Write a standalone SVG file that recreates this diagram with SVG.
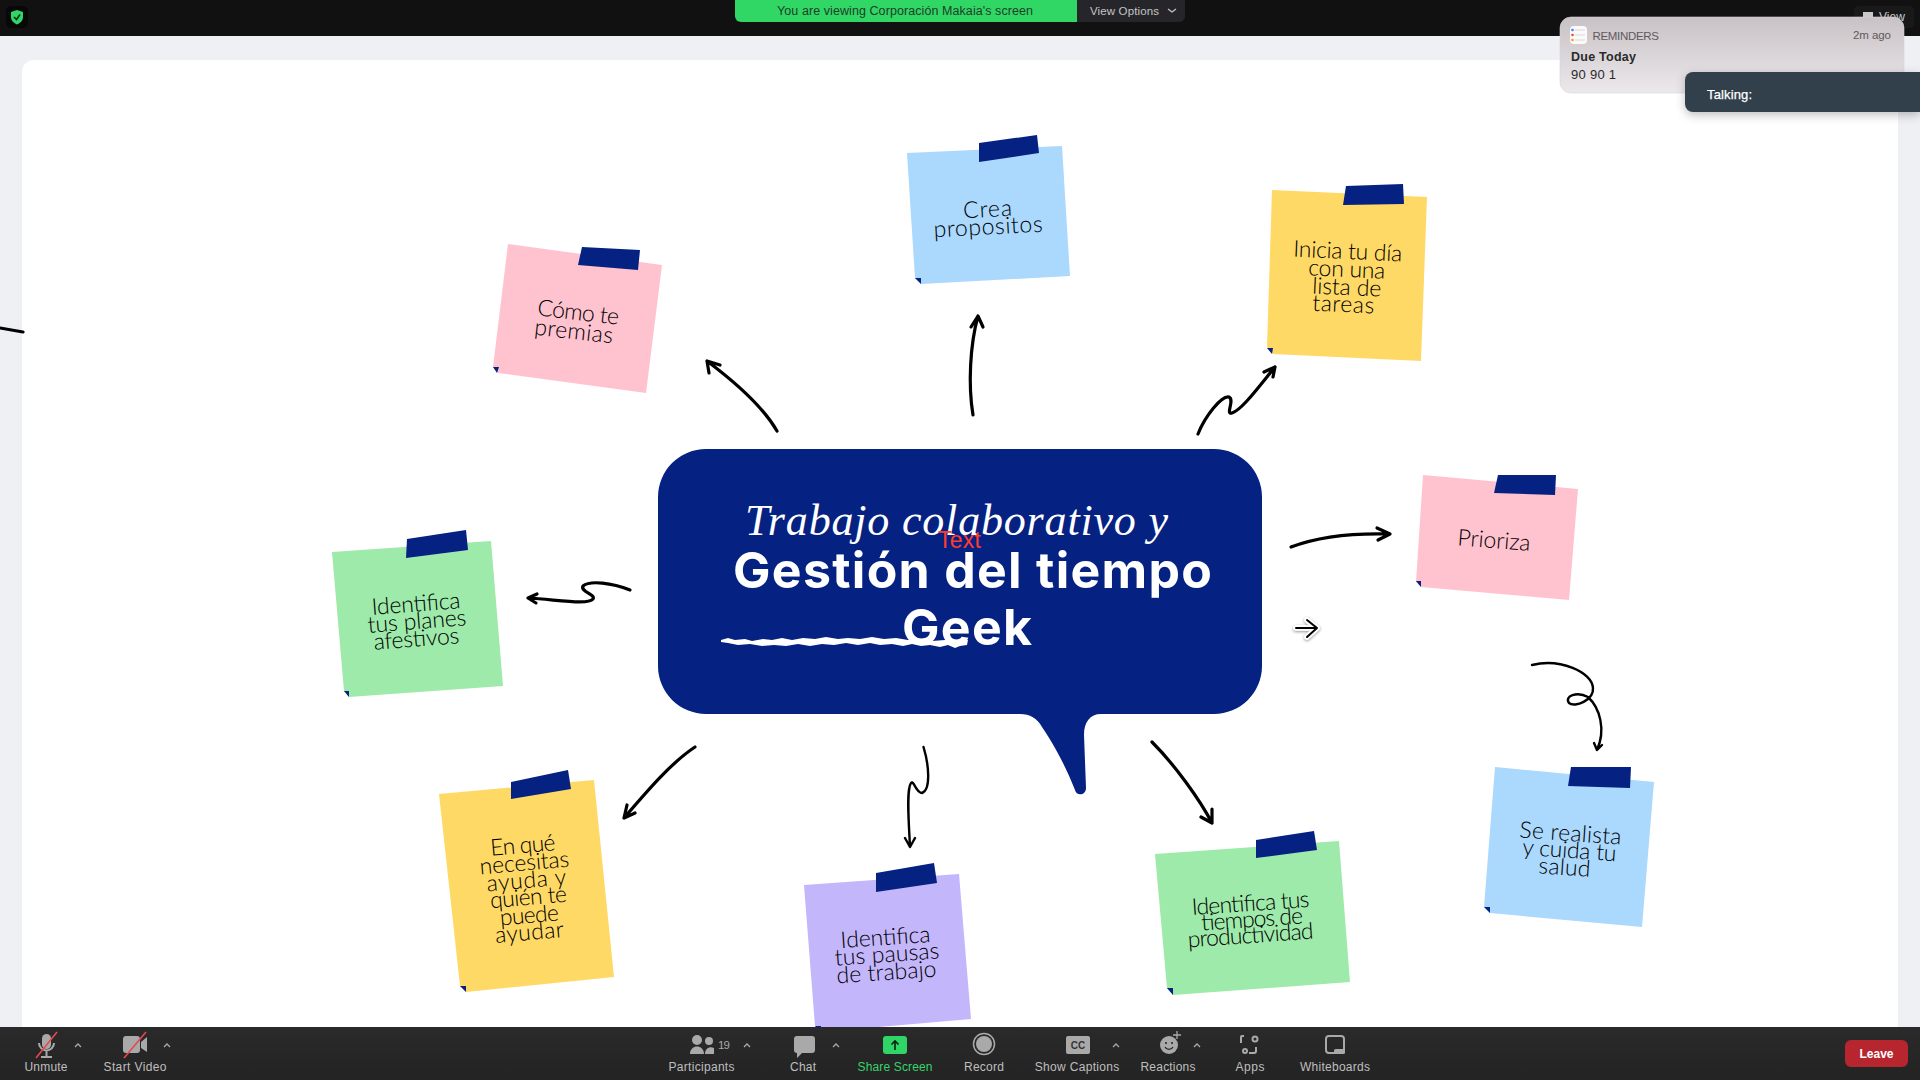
<svg xmlns="http://www.w3.org/2000/svg" width="1920" height="1080" viewBox="0 0 1920 1080">
<style>
text{font-family:"Liberation Sans",Arial,sans-serif}
.note{font-family:Lato,"Noto Sans",sans-serif;font-size:23px;font-weight:300;fill:#000;text-anchor:middle}
.head{font-family:Inter,"Liberation Sans",sans-serif;font-size:50px;font-weight:700;fill:#fff;text-anchor:middle}
.tape,.fold{fill:#052181}
.pink{fill:#ffc2cf}.blue{fill:#abd8fd}.yellow{fill:#ffd966}.green{fill:#9eeaaa}.purple{fill:#c3b6fa}
.arrow{fill:none;stroke:#000;stroke-width:3.2;stroke-linecap:round;stroke-linejoin:round}
.thin{stroke-width:2.4}
.tb{font-size:12px;fill:#bfbfbf;text-anchor:middle}
.ic{fill:#a9a9a9}
.icl{fill:none;stroke:#a9a9a9;stroke-width:2}
.car{fill:none;stroke:#a9a9a9;stroke-width:1.3}
.slash{stroke:#e5484d;stroke-width:1.6}
</style>
<defs>
<linearGradient id="rem" x1="0" y1="0" x2="0" y2="1"><stop offset="0" stop-color="#c8c1c5"/><stop offset="1" stop-color="#ece8eb"/></linearGradient>
<linearGradient id="bar" x1="0" y1="0" x2="0" y2="1"><stop offset="0" stop-color="#2a2a2a"/><stop offset="1" stop-color="#232323"/></linearGradient>
<filter id="sh" x="-20%" y="-40%" width="140%" height="200%"><feDropShadow dx="0" dy="3" stdDeviation="5" flood-color="#000" flood-opacity=".25"/></filter>
<filter id="csh" x="-40%" y="-40%" width="180%" height="180%"><feDropShadow dx="0" dy="1" stdDeviation="1.500" flood-color="#000" flood-opacity=".45"/></filter>
</defs>

<g id="screen">
<rect width="1920" height="1080" fill="#eff0f4"/>
<path d="M34,60H1898V1030H22V72A12,12 0 0 1 34,60Z" fill="#fff"/>
<path d="M0,328L23,332" class="arrow"/>
</g>

<g id="connectors">
<path class="arrow" d="M777,431C762,405 735,382 707,361M709,373L707,361L720,365"/>
<path class="arrow" d="M973,415C968,385 970,345 978,316M971,327L978,316L983,327"/>
<path class="arrow" d="M1198,434C1205,416 1222,395 1229,397C1235,400 1225,415 1232,413C1242,410 1260,385 1275,367M1264,372L1275,367L1273,377"/>
<path class="arrow" d="M1291,547C1320,536 1355,533 1390,534M1377,528L1390,534L1378,540"/>
<path class="arrow thin" d="M1532,665C1560,658 1592,672 1593,688C1594,700 1575,708 1569,703C1564,696 1577,691 1588,697C1600,708 1606,730 1597,750M1594,743L1597,750L1602,745"/>
<path class="arrow" d="M1152,742C1175,765 1200,800 1212,823M1201,817L1212,823L1212,809"/>
<path class="arrow thin" d="M923.500,747C929,765 931,790 922,793C916,793 914,780 911,783C906,790 909,825 910,847M905,838L910,847L915,838"/>
<path class="arrow" d="M695,747C672,762 648,790 624,818M627,805L624,818L635,813"/>
<path class="arrow" d="M630,590C612,583 590,580 583,586C580,592 596,594 593,599C588,605 560,600 528,598M537,594L528,598L536,603"/>
</g>

<g id="center">
<path d="M706,449H1214A48,48 0 0 1 1262,497V666A48,48 0 0 1 1214,714H1101C1090,714 1084,722 1084,735L1086,788C1086,796 1076,796 1075,790C1064,762 1052,742 1042,727C1037,718 1030,714 1020,714H706A48,48 0 0 1 658,666V497A48,48 0 0 1 706,449Z" fill="#052181"/>
<path d="M721,640L728,638L735,640L745,639L752,641L763,639L772,640L782,638L792,640L803,638L815,639L826,637L838,639L848,638L860,639L872,637L884,639L896,638L908,640L920,639L932,641L945,640L957,641L968,640L967,645L960,646L955,648L948,645L940,647L930,645L921,646L912,644L903,646L892,644L880,645L870,643L858,645L846,643L834,645L822,644L810,646L798,644L786,646L774,645L762,646L750,644L738,645L728,643L721,642Z" fill="#fff"/>
<text x="745" y="535" font-style="italic" font-size="44" fill="#fff" textLength="423" style="font-family:'Liberation Serif',serif">Trabajo colaborativo y</text>
<text class="head" x="972.500" y="588" textLength="479">Gestión del tiempo</text>
<text class="head" x="967" y="645" textLength="130">Geek</text>
<text x="938" y="548" font-size="23" fill="#ff3b30" textLength="43">Text</text>
</g>

<g id="note-premias">
<polygon class="pink" points="508,244 662,265 646,393 498,373 493,367"/>
<polygon class="tape" points="582,247 640,250 638,270 578,265"/>
<polygon class="fold" points="493,367 499,367 497,373"/>
<text class="note" transform="translate(577.500,320) rotate(6.500)" textLength="82">Cómo te</text>
<text class="note" transform="translate(573,339) rotate(6.500)" textLength="79">premias</text>
</g>
<g id="note-propositos">
<polygon class="blue" points="907,153 1062,146 1070,276 921,284 915,278"/>
<polygon class="tape" points="979,143 1037,135 1039,153 979,162"/>
<polygon class="fold" points="915,278 921,278 921,284"/>
<text class="note" transform="translate(988,217) rotate(-3)" textLength="49">Crea</text>
<text class="note" transform="translate(988.500,234.500) rotate(-3)" textLength="109">propositos</text>
</g>
<g id="note-tareas">
<polygon class="yellow" points="1272,190 1427,197 1421,361 1273,354 1267,347"/>
<polygon class="tape" points="1346,186 1403,184 1404,204 1343,205"/>
<polygon class="fold" points="1267,348 1273,348 1272,354"/>
<text class="note" transform="translate(1347.500,259) rotate(2.500)" textLength="109">Inicia tu día</text>
<text class="note" transform="translate(1346.500,277) rotate(2.500)" textLength="77">con una</text>
<text class="note" transform="translate(1346.500,295) rotate(2.500)" textLength="69">lista de</text>
<text class="note" transform="translate(1343,312) rotate(2.500)" textLength="62">tareas</text>
</g>
<g id="note-prioriza">
<polygon class="pink" points="1423,475 1578,489 1569,600 1421,587 1416,582"/>
<polygon class="tape" points="1498,475 1556,475 1555,495 1494,493"/>
<polygon class="fold" points="1416,581 1421,581 1421,587"/>
<text class="note" transform="translate(1493.500,548) rotate(4.500)" textLength="73">Prioriza</text>
</g>
<g id="note-salud">
<polygon class="blue" points="1495,767 1654,782 1642,927 1490,913 1484,907"/>
<polygon class="tape" points="1571,767 1631,767 1630,788 1568,786"/>
<polygon class="fold" points="1484,907 1490,907 1490,913"/>
<text class="note" transform="translate(1570,841) rotate(4)" textLength="102">Se realista</text>
<text class="note" transform="translate(1569,858) rotate(4)" textLength="94">y cuida tu</text>
<text class="note" transform="translate(1564,875) rotate(4)" textLength="52">salud</text>
</g>
<g id="note-productividad">
<polygon class="green" points="1155,854 1339,841 1350,982 1173,995 1167,988"/>
<polygon class="tape" points="1256,840 1314,831 1317,850 1256,858"/>
<polygon class="fold" points="1167,988 1173,988 1173,995"/>
<text class="note" transform="translate(1251,911) rotate(-4)" textLength="118">Identifica tus</text>
<text class="note" transform="translate(1252,927) rotate(-4)" textLength="102">tiempos de</text>
<text class="note" transform="translate(1251,943) rotate(-4)" textLength="126">productividad</text>
</g>
<g id="note-pausas">
<polygon class="purple" points="804,885 959,874 971,1019 821,1032 815,1026"/>
<polygon class="tape" points="876,873 934,863 937,883 876,892"/>
<polygon class="fold" points="815,1026 821,1026 821,1032"/>
<text class="note" transform="translate(886,945) rotate(-4)" textLength="90">Identifica</text>
<text class="note" transform="translate(887.500,962) rotate(-4)" textLength="105">tus pausas</text>
<text class="note" transform="translate(887,980) rotate(-4)" textLength="100">de trabajo</text>
</g>
<g id="note-ayuda">
<polygon class="yellow" points="439,794 594,780 614,977 466,992 460,986"/>
<polygon class="tape" points="511,782 568,770 571,789 511,799"/>
<polygon class="fold" points="460,986 466,986 466,992"/>
<text class="note" transform="translate(523.500,853) rotate(-5)" textLength="65">En qué</text>
<text class="note" transform="translate(525,870.500) rotate(-5)" textLength="90">necesitas</text>
<text class="note" transform="translate(527,888) rotate(-5)" textLength="80">ayuda y</text>
<text class="note" transform="translate(529,905) rotate(-5)" textLength="77">quién te</text>
<text class="note" transform="translate(530,923) rotate(-5)" textLength="59">puede</text>
<text class="note" transform="translate(530,940) rotate(-5)" textLength="69">ayudar</text>
</g>
<g id="note-afestivos">
<polygon class="green" points="332,552 491,541 503,686 349,697 344,691"/>
<polygon class="tape" points="407,539 466,530 468,550 406,558"/>
<polygon class="fold" points="344,691 349,691 349,697"/>
<text class="note" transform="translate(416.500,611.500) rotate(-4.500)" textLength="89">Identifica</text>
<text class="note" transform="translate(417.500,629) rotate(-4.500)" textLength="99">tus planes</text>
<text class="note" transform="translate(417,646.500) rotate(-4.500)" textLength="86">afestivos</text>
</g>

<g id="cursor" fill="none" stroke-linecap="round" stroke-linejoin="round">
<path d="M1296,628H1317M1307,620L1317,628L1307,637" stroke="#fff" stroke-width="5.500" filter="url(#csh)"/>
<path d="M1296,628H1317M1307,620L1317,628L1307,637" stroke="#000" stroke-width="2"/>
</g>

<g id="top-bar">
<rect width="1920" height="36" fill="#111"/>
<rect x="6" y="6" width="22" height="22" rx="5" fill="#080808"/>
<path d="M17,10L23,12V17C23,21 20,23 17,24.500C14,23 11,21 11,17V12Z" fill="#2fd566"/>
<path d="M14,17L16.500,19.500L20,14.500" fill="none" stroke="#0a2a14" stroke-width="1.500"/>
<path d="M735,0H1185V16A6,6 0 0 1 1179,22H741A6,6 0 0 1 735,16Z" fill="#26262a"/>
<path d="M735,0H1077V22H741A6,6 0 0 1 735,16Z" fill="#30d764"/>
<text x="777" y="15" font-size="12.500" fill="#1f3d2a" textLength="256">You are viewing Corporación Makaia's screen</text>
<text x="1090" y="15" font-size="11.500" fill="#c4c4c8" textLength="69">View Options</text>
<path d="M1168,9L1172,12L1176,9" fill="none" stroke="#c4c4c8" stroke-width="1.300"/>
<rect x="1854" y="6" width="60" height="22" rx="4" fill="#191919"/>
<path d="M1863,12h10v5h-10z" fill="#c8c8c8"/>
<text x="1879" y="21" font-size="12" fill="#c8c8c8" textLength="26">View</text>
</g>

<g id="reminder">
<rect x="1560" y="17" width="344" height="76" rx="11" fill="url(#rem)" stroke="#d8d4d6" stroke-width=".6"/>
<rect x="1570" y="26" width="17" height="18" rx="4" fill="#fafafa"/>
<circle cx="1572.500" cy="30" r="1.300" fill="#3b82f6"/>
<circle cx="1572.500" cy="35" r="1.300" fill="#ef4444"/>
<circle cx="1572.500" cy="40" r="1.300" fill="#f59e0b"/>
<path d="M1575,30h10M1575,35h10M1575,40h10" stroke="#cfcfcf" stroke-width=".8"/>
<text x="1592.500" y="40" font-size="11.500" fill="#5f595c" textLength="66.500">REMINDERS</text>
<text x="1853" y="39" font-size="11.500" fill="#5f595c" textLength="38">2m ago</text>
<text x="1571" y="61" font-size="12.500" font-weight="700" fill="#2a2a2a" textLength="65">Due Today</text>
<text x="1571" y="79" font-size="13" fill="#2a2a2a" textLength="45">90 90 1</text>
</g>
<g id="talking">
<path d="M1920,72H1693A8,8 0 0 0 1685,80V104A8,8 0 0 0 1693,112H1920Z" fill="#33414b" filter="url(#sh)"/>
<text x="1707" y="99" font-size="13" fill="#fff" stroke="#fff" stroke-width=".25" textLength="45">Talking:</text>
</g>

<g id="toolbar">
<rect y="1027" width="1920" height="53" fill="url(#bar)"/>
<g id="btn-unmute">
<rect x="42" y="1034" width="9" height="15" rx="4.500" class="ic"/>
<path d="M39,1043a7.500,7.500 0 0 0 15,0M46.500,1051v5M41,1057h11" class="icl"/>
<path d="M36,1058L57,1032" class="slash"/>
<path d="M75,1047L78,1044L81,1047" class="car"/>
<text class="tb" x="46" y="1071" textLength="43">Unmute</text>
</g>
<g id="btn-video">
<rect x="123" y="1036" width="17" height="17" rx="3" class="ic"/>
<path d="M141,1042L147,1037V1052L141,1048Z" class="ic"/>
<path d="M124,1058L146,1032" class="slash"/>
<path d="M164,1047L167,1044L170,1047" class="car"/>
<text class="tb" x="135" y="1071" textLength="63">Start Video</text>
</g>
<g id="btn-participants">
<circle cx="697" cy="1040" r="5" class="ic"/>
<circle cx="709" cy="1041" r="4" class="ic"/>
<path d="M690,1054C690,1044 704,1044 704,1054ZM705,1054C705,1048 710,1046 714,1048V1054Z" class="ic"/>
<text x="718" y="1049" font-size="11.500" fill="#a9a9a9" textLength="12">19</text>
<path d="M744,1047L747,1044L750,1047" class="car"/>
<text class="tb" x="701.500" y="1071" textLength="66">Participants</text>
</g>
<g id="btn-chat">
<path d="M797,1036H812A3,3 0 0 1 815,1039V1050A3,3 0 0 1 812,1053H802L797,1058V1053A3,3 0 0 1 794,1050V1039A3,3 0 0 1 797,1036Z" class="ic"/>
<path d="M833,1047L836,1044L839,1047" class="car"/>
<text class="tb" x="803" y="1071" textLength="26">Chat</text>
</g>
<g id="btn-share">
<rect x="883" y="1036" width="24" height="18" rx="3" fill="#2fd566"/>
<path d="M895,1050V1041M891.500,1044.500L895,1041L898.500,1044.500" fill="none" stroke="#0b1f12" stroke-width="1.600"/>
<text class="tb" x="895" y="1071" textLength="75" style="fill:#35d46a">Share Screen</text>
</g>
<g id="btn-record">
<circle cx="984" cy="1044" r="10.500" fill="none" stroke="#a9a9a9" stroke-width="1.500"/>
<circle cx="984" cy="1044" r="8" class="ic"/>
<text class="tb" x="984" y="1071" textLength="40">Record</text>
</g>
<g id="btn-captions">
<rect x="1066" y="1036" width="24" height="18" rx="2" class="ic"/>
<text x="1078" y="1049" font-size="10" font-weight="700" fill="#333" text-anchor="middle">CC</text>
<path d="M1113,1047L1116,1044L1119,1047" class="car"/>
<text class="tb" x="1077" y="1071" textLength="84.500">Show Captions</text>
</g>
<g id="btn-reactions">
<circle cx="1169" cy="1045" r="9" class="ic"/>
<circle cx="1166" cy="1043" r="1" fill="#222"/><circle cx="1172" cy="1043" r="1" fill="#222"/>
<path d="M1165,1047a4.500,4.500 0 0 0 8,0" fill="none" stroke="#222" stroke-width="1.200"/>
<path d="M1177,1031v8M1173,1035h8" stroke="#a9a9a9" stroke-width="1.300"/>
<path d="M1194,1047L1197,1044L1200,1047" class="car"/>
<text class="tb" x="1168" y="1071" textLength="55">Reactions</text>
</g>
<g id="btn-apps">
<path d="M1244,1036h-2a1,1 0 0 0 -1,1v6M1249,1053h5a2,2 0 0 0 2,-2v-4" class="icl" stroke-width="1.500"/>
<circle cx="1255" cy="1039" r="2.500" class="icl"/>
<circle cx="1245" cy="1051" r="2" class="icl"/>
<text class="tb" x="1250" y="1071" textLength="29">Apps</text>
</g>
<g id="btn-whiteboards">
<rect x="1326" y="1036" width="18" height="17" rx="3" class="icl"/>
<rect x="1334" y="1049" width="11" height="5" rx="1.500" class="ic"/>
<text class="tb" x="1335" y="1071" textLength="70">Whiteboards</text>
</g>
<g id="btn-leave">
<rect x="1845" y="1040" width="63" height="27" rx="6" fill="#b7262f"/>
<text x="1876.500" y="1058" font-size="12" font-weight="700" fill="#fff" text-anchor="middle">Leave</text>
</g>
</g>
</svg>
